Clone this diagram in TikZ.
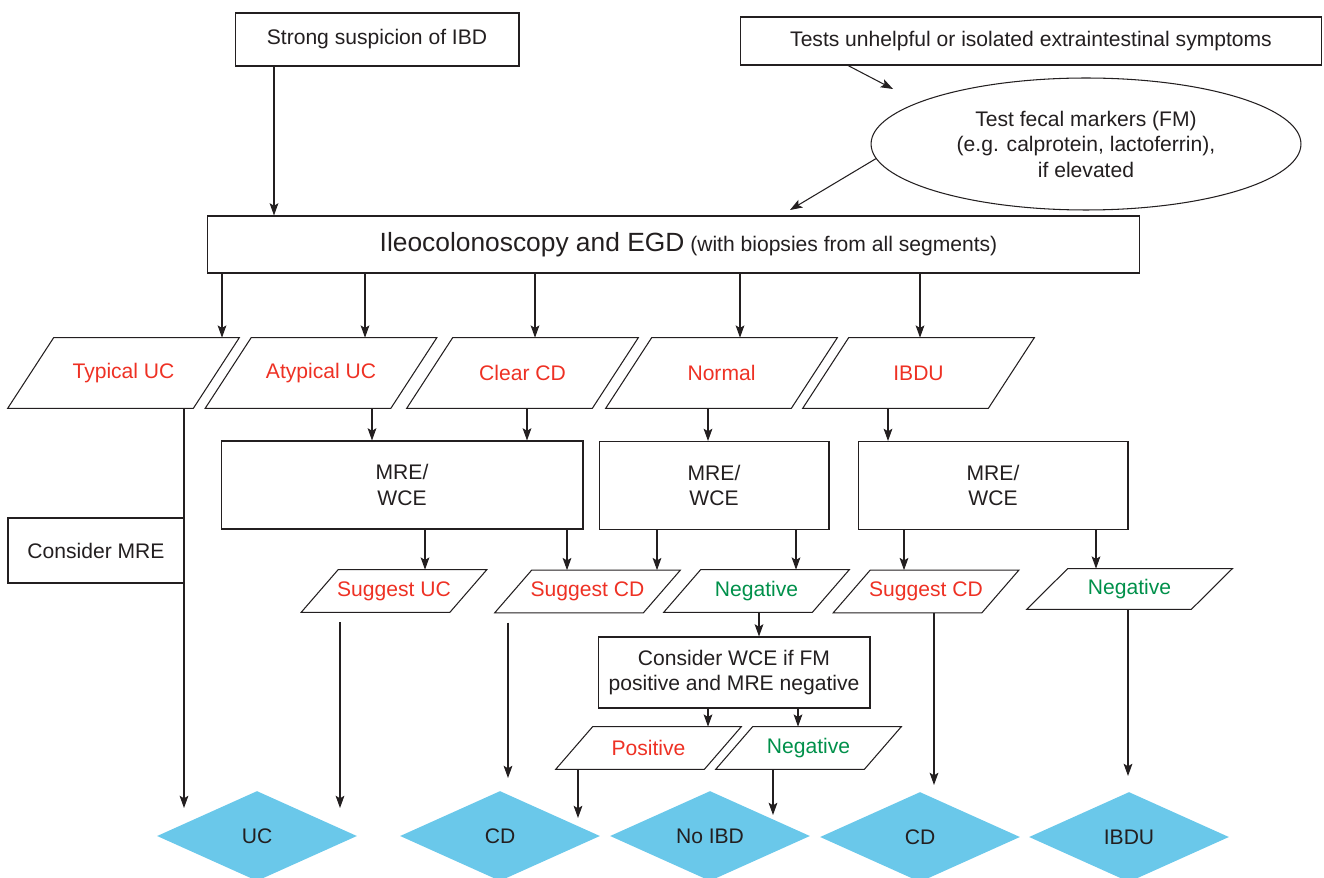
\documentclass[tikz,border=0pt]{standalone}
\usepackage{fontspec}
\setmainfont{Liberation Sans}
\usetikzlibrary{arrows.meta,shapes.geometric}
\definecolor{findred}{HTML}{EE3124}
\definecolor{neggreen}{HTML}{00904A}
\definecolor{outblue}{HTML}{6AC8EA}
\definecolor{ink}{HTML}{231F20}
\newcommand{\FindingColor}{findred}
\newcommand{\NegativeColor}{neggreen}
\newcommand{\OutcomeColor}{outblue}

\begin{document}
\begin{tikzpicture}[
	x=0.02cm, y=-0.02cm,
	% Define styles and settings
	every node/.style={font=\fontsize{12}{14.5}\selectfont, text=ink},
	box/.style={rectangle, draw=ink, line width=0.6pt, align=center, inner sep=2pt},
	leaning/.style={rectangle, inner sep=0pt, append after command={\pgfextra{\draw[draw=ink, line width=0.6pt]
		([xshift=-#1]\tikzlastnode.south west) -- ([xshift=-#1]\tikzlastnode.south east) --
		([xshift=#1]\tikzlastnode.north east) -- ([xshift=#1]\tikzlastnode.north west) -- cycle;}}},
	finding/.style={leaning=0.46cm, minimum width=3.7cm, minimum height=1.4cm},
	result/.style={leaning=0.37cm, minimum width=2.96cm, minimum height=0.84cm},
	outcome/.style={diamond, fill=\OutcomeColor, inner sep=0pt, minimum width=4cm, minimum height=1.8cm},
	arrow/.style={-{Stealth[length=7pt,width=5pt,inset=1.5pt]}, line width=0.6pt, draw=ink}
	]
	\useasboundingbox (0,0) rectangle (1324,878);
	\clip (0,0) rectangle (1324,878);
	% \draw[help lines, step=100] (0,0) grid (1324,878);

	\draw (377,39.5) node[box, minimum width=5.68cm, minimum height=1.06cm] (Suspicion) {Strong suspicion of IBD};
	\draw (1031,41) node[box, minimum width=11.64cm, minimum height=0.96cm] (Tests) {Tests unhelpful or isolated extraintestinal symptoms};
	\draw (1086,144) node[ellipse, draw=ink, line width=0.6pt, inner sep=0pt, minimum width=8.6cm, minimum height=2.64cm, align=center] (FecalMarkers) {Test fecal markers (FM)\\(e.g. calprotein, lactoferrin),\\if elevated};

	\draw (673.5,244.5) node[box, minimum width=18.66cm, minimum height=1.14cm] (Endoscopy) {\hspace{0.6cm}{\fontsize{15}{18}\selectfont Ileocolonoscopy and EGD} (with biopsies from all segments)};

		\draw (123.5,373) node[finding, text=\FindingColor] (TypicalUC) {Typical UC};
		\draw (321,373) node[finding, text=\FindingColor] (AtypicalUC) {Atypical UC};
		\draw (522.5,373) node[finding, text=\FindingColor] (ClearCD) {Clear CD};
		\draw (721.5,373) node[finding, text=\FindingColor] (Normal) {Normal};
		\draw (918.5,373) node[finding, text=\FindingColor] (IBDUFinding) {IBDU};

		\draw (96,550.5) node[box, minimum width=3.52cm, minimum height=1.3cm] (ConsiderMRE) {Consider MRE};
		\draw (402,485) node[box, minimum width=7.24cm, minimum height=1.76cm] (MRE_1) {MRE/\\WCE};
		\draw (714,485.5) node[box, minimum width=4.6cm, minimum height=1.76cm] (MRE_2) {MRE/\\WCE};
		\draw (993,485.5) node[box, minimum width=5.4cm, minimum height=1.76cm] (MRE_3) {MRE/\\WCE};

		\draw (394,591) node[result, text=\FindingColor] (SuggestUC) {Suggest UC};
		\draw (587.5,591.5) node[result, text=\FindingColor] (SuggestCD_1) {Suggest CD};
		\draw (756.5,591) node[result, text=\NegativeColor] (Negative_1) {Negative};
		\draw (926,591.5) node[result, text=\FindingColor] (SuggestCD_2) {Suggest CD};
		\draw (1129.5,589) node[leaning=0.41cm, minimum width=3.28cm, minimum height=0.8cm, text=\NegativeColor] (Negative_2) {Negative};

		\draw (734,672.5) node[box, minimum width=5.44cm, minimum height=1.42cm] (ConsiderWCE) {Consider WCE if FM\\positive and MRE negative};
		\draw (648.5,748) node[result, text=\FindingColor] (Positive) {Positive};
		\draw (808.5,748) node[result, text=\NegativeColor] (Negative_3) {Negative};

	\draw (257,836) node[outcome] (UC) {UC};
	\draw (500,836) node[outcome] (CD_1) {CD};
	\draw (710,836) node[outcome] (NoIBD) {No IBD};
	\draw (920,837) node[outcome] (CD_2) {CD};
	\draw (1129,837) node[outcome] (IBDUOutcome) {IBDU};

	% free ends of the arrows
	\coordinate (FMIn) at (893,89);
	\coordinate (EndoIn) at (790,210);
	\coordinate (UCIn_1) at (184,808);
	\coordinate (UCIn_2) at (340,808);
	\coordinate (CDIn_1) at (508,778);
	\coordinate (CDIn_2) at (578,818);
	\coordinate (NoIBDIn) at (773,815);
	\coordinate (CDIn_3) at (934,785);
	\coordinate (IBDUIn) at (1128,776);

	\draw[arrow] (Suspicion.south -| 274,0) -- (Endoscopy.north -| 274,0);
	\draw[arrow] (Tests.south -| 848,0) -- (FMIn);
	\draw[arrow] (FecalMarkers.184) -- (EndoIn);

	\draw[arrow] (Endoscopy.south -| 222,0) -- (TypicalUC.north -| 222,0);
	\draw[arrow] (Endoscopy.south -| 365,0) -- (AtypicalUC.north -| 365,0);
	\draw[arrow] (Endoscopy.south -| 535,0) -- (ClearCD.north -| 535,0);
	\draw[arrow] (Endoscopy.south -| 740,0) -- (Normal.north -| 740,0);
	\draw[arrow] (Endoscopy.south -| 920,0) -- (IBDUFinding.north -| 920,0);

	\draw[arrow] (TypicalUC.south -| 184,0) -- (UCIn_1);
	\draw[arrow] (AtypicalUC.south -| 372,0) -- (MRE_1.north -| 372,0);
	\draw[arrow] (ClearCD.south -| 527,0) -- (MRE_1.north -| 527,0);
	\draw[arrow] (Normal.south -| 708,0) -- (MRE_2.north -| 708,0);
	\draw[arrow] (IBDUFinding.south -| 888,0) -- (MRE_3.north -| 888,0);

	\draw[arrow] (MRE_1.south -| 425,0) -- (SuggestUC.north -| 425,0);
	\draw[arrow] (MRE_1.south -| 567,0) -- (SuggestCD_1.north -| 567,0);
	\draw[arrow] (MRE_2.south -| 657,0) -- (SuggestCD_1.north -| 657,0);
	\draw[arrow] (MRE_2.south -| 796,0) -- (Negative_1.north -| 796,0);
	\draw[arrow] (MRE_3.south -| 904,0) -- (SuggestCD_2.north -| 904,0);
	\draw[arrow] (MRE_3.south -| 1096,0) -- (Negative_2.north -| 1096,0);

	\draw[arrow] (Negative_1.south -| 759,0) -- (ConsiderWCE.north -| 759,0);
	\draw[arrow] (ConsiderWCE.south -| 708,0) -- (Positive.north -| 708,0);
	\draw[arrow] (ConsiderWCE.south -| 798,0) -- (Negative_3.north -| 798,0);

	\draw[arrow, shorten <=5.5pt] (SuggestUC.south -| 340,0) -- (UCIn_2);
	\draw[arrow, shorten <=5.5pt] (SuggestCD_1.south -| 508,0) -- (CDIn_1);
	\draw[arrow] (Positive.south -| 578,0) -- (CDIn_2);
	\draw[arrow] (Negative_3.south -| 773,0) -- (NoIBDIn);
	\draw[arrow] (SuggestCD_2.south -| 934,0) -- (CDIn_3);
	\draw[arrow] (Negative_2.south -| 1128,0) -- (IBDUIn);

\end{tikzpicture}
\end{document}
